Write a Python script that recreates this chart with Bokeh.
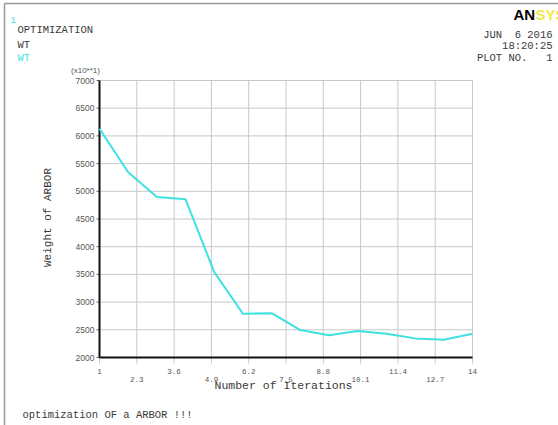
import math
from bokeh.plotting import figure
from bokeh.models import Range1d
from bokeh.core.properties import value
from bokeh.embed import file_html
from bokeh.resources import INLINE

# Optimization history: weight of the arbor per design iteration (units of x10**1)
iterations = list(range(1, 15))
weight = [6130, 5345, 4895, 4855, 3540, 2790, 2800, 2495, 2400, 2480, 2430, 2345, 2320, 2430]

x_ticks = [1, 2.3, 3.6, 4.9, 6.2, 7.5, 8.8, 10.1, 11.4, 12.7, 14]
x_tick_labels = ["1", "2.3", "3.6", "4.9", "6.2", "7.5", "8.8", "10.1", "11.4", "12.7", "14"]
y_ticks = [2000, 2500, 3000, 3500, 4000, 4500, 5000, 5500, 6000, 6500, 7000]
y_tick_labels = [str(v) for v in y_ticks]

W, H = 558, 425
# pixel box of the graph area inside the page
GX0, GX1, GY0, GY1 = 99, 472, 80, 357
XMIN, XMAX = x_ticks[0], x_ticks[-1]
YMIN, YMAX = y_ticks[0], y_ticks[-1]
kx = (XMAX - XMIN) / (GX1 - GX0)
ky = (YMAX - YMIN) / (GY1 - GY0)


def px_x(px):
    return XMIN + (px - GX0) * kx


def px_y(py):
    return YMIN + (GY1 - py) * ky


MONO = value("Liberation Mono")
SANS = value("Liberation Sans")
CYAN = "#3fe0e0"
GRID = "#c8c8c8"
INK = "#3a3a3a"
NB = "\u00a0"  # keeps runs of spaces in the fixed-width header lines

p = figure(
    width=W, height=H,
    x_range=Range1d(px_x(0), px_x(W)), y_range=Range1d(px_y(H), px_y(0)),
    output_backend="svg", toolbar_location=None,
    x_axis_type=None, y_axis_type=None,
    min_border=0,
)
p.grid.visible = False
p.outline_line_color = None
p.background_fill_color = "white"
p.border_fill_color = "white"

# page frame
p.segment(x0=[px_x(4), px_x(4)], y0=[px_y(3), px_y(3)], x1=[px_x(W), px_x(4)], y1=[px_y(3), px_y(H)],
          line_color="#9a9a9a", line_width=1.5)

# grid, with the vertical lines running a little below the axis as ticks
tick_drop = px_y(GY1 + 6)
p.segment(x0=x_ticks, y0=[tick_drop] * len(x_ticks), x1=x_ticks, y1=[YMAX] * len(x_ticks),
          line_color=GRID, line_width=1)
p.segment(x0=[XMIN] * len(y_ticks), y0=y_ticks, x1=[XMAX] * len(y_ticks), y1=y_ticks,
          line_color=GRID, line_width=1)

# y tick marks
p.segment(x0=[px_x(GX0 - 3)] * len(y_ticks), y0=y_ticks, x1=[XMIN] * len(y_ticks), y1=y_ticks,
          line_color="#666666", line_width=1)

# heavy axis lines
p.segment(x0=[XMIN, XMIN], y0=[YMIN, YMIN], x1=[XMIN, XMAX], y1=[YMAX, YMIN],
          line_color="#111111", line_width=2)

# data
p.line(iterations, weight, line_color=CYAN, line_width=2)

# y tick labels
p.text(x=[px_x(GX0 - 5)] * len(y_ticks), y=y_ticks, text=y_tick_labels,
       text_font=SANS, text_font_size="8.5px", text_color="#555555",
       text_align="right", text_baseline="middle")

# x tick labels in two staggered rows
row_y = [px_y(371) if i % 2 == 0 else px_y(379) for i in range(len(x_ticks))]
p.text(x=x_ticks, y=row_y, text=x_tick_labels,
       text_font=MONO, text_font_size="7.5px", text_color="#555555",
       text_align="center", text_baseline="middle")

# axis titles
p.text(x=[px_x(283)], y=[px_y(385)], text=["Number of Iterations"],
       text_font=MONO, text_font_size="11.5px", text_color=INK,
       text_align="center", text_baseline="middle")
p.text(x=[px_x(47)], y=[px_y(217)], text=["Weight of ARBOR"], angle=math.pi / 2,
       text_font=MONO, text_font_size="11px", text_color=INK,
       text_align="center", text_baseline="middle")
p.text(x=[px_x(85)], y=[px_y(70)], text=["(x10**1)"],
       text_font=SANS, text_font_size="8px", text_color="#555555",
       text_align="center", text_baseline="middle")


def note(text, px, py, size="10.5px", color=INK, font=MONO, align="left", style="normal"):
    p.text(x=[px_x(px)], y=[px_y(py)], text=[text], text_font=font, text_font_size=size,
           text_color=color, text_align=align, text_baseline="middle", text_font_style=style)


# header, left
note("1", 10, 19, size="9px", color=CYAN)
note("OPTIMIZATION", 17, 29)
note("WT", 17, 44)
note("WT", 17, 57, color=CYAN)

# header, right
note("AN", 513, 14, size="15px", color="#000000", font=SANS, style="bold")
note("SYS", 535, 14, size="15px", color="#f2e84a", font=SANS, style="bold")
note("JUN" + NB * 2 + "6 2016", 552, 34, align="right")
note("18:20:25", 552, 45, align="right")
note("PLOT NO." + NB * 3 + "1", 552, 57, align="right")

# footer
note("optimization OF a ARBOR !!!", 22, 414)

open("out.html", "w").write(file_html(p, INLINE))
